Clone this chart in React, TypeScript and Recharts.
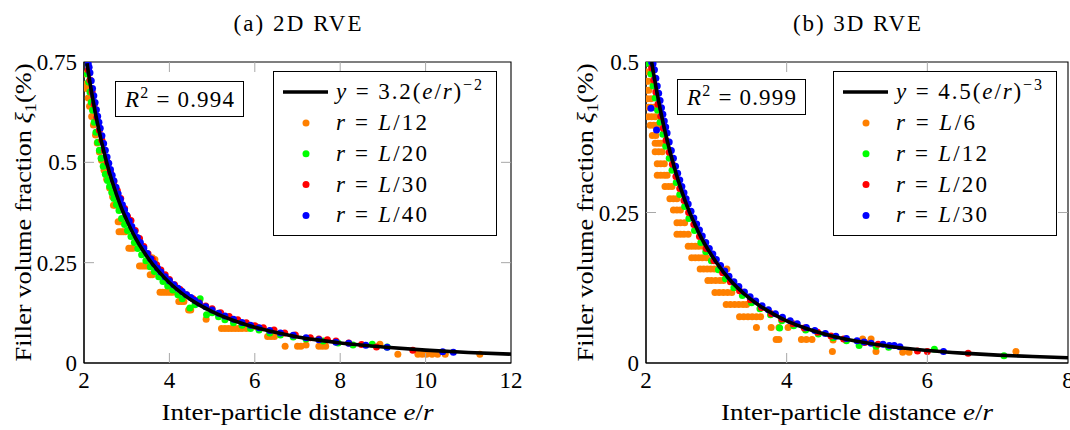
import React from "react";
import { ComposedChart, Scatter, XAxis, YAxis, ReferenceArea, Legend } from "recharts";

type Pt = [number, number];

// (a) 2D RVE
const fit2D: Pt[] = [
  [2.07, 0.747], [2.1, 0.726], [2.15, 0.692], [2.2, 0.661], [2.25, 0.632], [2.3, 0.605], [2.4, 0.556],
  [2.5, 0.512], [2.6, 0.473], [2.7, 0.439], [2.8, 0.408], [2.9, 0.38], [3.0, 0.356], [3.2, 0.3125],
  [3.4, 0.277], [3.6, 0.247], [3.8, 0.222], [4.0, 0.2], [4.3, 0.173], [4.6, 0.151], [5.0, 0.128],
  [5.5, 0.106], [6.0, 0.089], [6.5, 0.076], [7.0, 0.065], [7.5, 0.057], [8.0, 0.05], [9.0, 0.04],
  [10.0, 0.032], [11.0, 0.026], [12.0, 0.022],
];
const orange2D: Pt[] = [
  [2.01, 0.72], [2.05, 0.695], [2.06, 0.684], [2.1, 0.66], [2.13, 0.64], [2.18, 0.614], [2.22, 0.593],
  [2.27, 0.568], [2.31, 0.548], [2.36, 0.526], [2.41, 0.505], [2.45, 0.505], [2.47, 0.48], [2.53, 0.458],
  [2.6, 0.436], [2.67, 0.414], [2.69, 0.393], [2.73, 0.393],
  [2.8, 0.352], [2.84, 0.352], [2.88, 0.352],
  [2.82, 0.327], [2.87, 0.327], [2.92, 0.327], [2.97, 0.327],
  [3.05, 0.286], [3.1, 0.286], [3.15, 0.286],
  [3.3, 0.242], [3.35, 0.242], [3.4, 0.242], [3.45, 0.242], [3.5, 0.242],
  [3.55, 0.22], [3.6, 0.22], [3.6, 0.262], [3.66, 0.258],
  [3.78, 0.176], [3.84, 0.176], [3.9, 0.176], [3.96, 0.176], [4.02, 0.176], [4.08, 0.176],
  [4.22, 0.153], [4.28, 0.153], [4.34, 0.153], [4.45, 0.132], [4.5, 0.132], [4.86, 0.109],
  [5.22, 0.086], [5.3, 0.086], [5.38, 0.086], [5.46, 0.086], [5.54, 0.086], [5.62, 0.086], [5.7, 0.086], [5.8, 0.086],
  [5.9, 0.092], [6.05, 0.09],
  [6.3, 0.066], [6.38, 0.066], [6.46, 0.066],
  [6.71, 0.042], [7.0, 0.042], [7.08, 0.042], [7.2, 0.045], [7.5, 0.042], [7.58, 0.042], [7.66, 0.042],
  [8.93, 0.047],
  [9.35, 0.022], [9.82, 0.022], [9.92, 0.022], [10.02, 0.022], [10.15, 0.022], [10.28, 0.022], [10.46, 0.022], [11.27, 0.022],
];
const green2D: Pt[] = [
  [2.08, 0.72], [2.11, 0.7], [2.14, 0.675], [2.17, 0.65], [2.2, 0.63], [2.24, 0.6], [2.28, 0.575], [2.32, 0.55],
  [2.36, 0.53], [2.4, 0.51], [2.45, 0.49], [2.5, 0.47], [2.55, 0.455], [2.6, 0.44], [2.65, 0.425], [2.7, 0.41],
  [2.76, 0.395], [2.82, 0.38], [2.88, 0.36], [2.95, 0.345], [3.02, 0.33], [3.1, 0.315], [3.18, 0.3], [3.26, 0.285],
  [3.35, 0.27], [3.45, 0.255], [3.55, 0.24], [3.65, 0.228], [3.75, 0.215], [3.85, 0.203], [3.96, 0.192],
  [4.08, 0.182], [4.2, 0.17], [4.3, 0.16], [4.48, 0.137], [4.6, 0.145], [4.72, 0.16], [4.87, 0.12], [5.0, 0.125],
  [5.15, 0.115], [5.3, 0.108], [5.5, 0.1], [5.7, 0.094], [5.9, 0.086], [6.1, 0.082], [6.35, 0.075], [6.6, 0.07],
  [6.9, 0.065], [7.2, 0.06], [7.6, 0.055], [7.95, 0.05], [8.3, 0.045], [8.75, 0.047], [9.1, 0.04],
];
const red2D: Pt[] = [
  [2.1, 0.73], [2.14, 0.705], [2.19, 0.675], [2.24, 0.645], [2.3, 0.612], [2.36, 0.58], [2.42, 0.555], [2.48, 0.53],
  [2.55, 0.5], [2.62, 0.475], [2.7, 0.452], [2.78, 0.43], [2.86, 0.41], [2.95, 0.385], [3.02, 0.365], [3.1, 0.355],
  [3.2, 0.33], [3.3, 0.31], [3.4, 0.29], [3.5, 0.272], [3.6, 0.258], [3.7, 0.245], [3.8, 0.232], [3.9, 0.22],
  [4.0, 0.208], [4.12, 0.195], [4.25, 0.183], [4.4, 0.17], [4.55, 0.16], [4.7, 0.15], [4.85, 0.142], [5.0, 0.135],
  [5.2, 0.125], [5.4, 0.116], [5.6, 0.108], [5.8, 0.1], [6.0, 0.093], [6.2, 0.088], [6.45, 0.082], [6.7, 0.075],
  [6.95, 0.07], [7.3, 0.063], [7.5, 0.06], [7.7, 0.058], [7.9, 0.055], [8.2, 0.05], [8.5, 0.046], [8.85, 0.04], [9.7, 0.032],
];
const blue2D: Pt[] = [
  [2.1, 0.745], [2.12, 0.737], [2.14, 0.723], [2.17, 0.703], [2.2, 0.684], [2.23, 0.666], [2.26, 0.649], [2.29, 0.631],
  [2.32, 0.615], [2.35, 0.6], [2.38, 0.585], [2.42, 0.566], [2.46, 0.547], [2.5, 0.53], [2.54, 0.513], [2.58, 0.498],
  [2.62, 0.482], [2.66, 0.468], [2.7, 0.454], [2.75, 0.438], [2.8, 0.422], [2.85, 0.408], [2.9, 0.394], [2.95, 0.381],
  [3.0, 0.368], [3.06, 0.354], [3.12, 0.34], [3.18, 0.327], [3.25, 0.313], [3.32, 0.3], [3.4, 0.286], [3.48, 0.273],
  [3.56, 0.26], [3.64, 0.248], [3.72, 0.237], [3.8, 0.227], [3.9, 0.215], [4.0, 0.205], [4.1, 0.195], [4.2, 0.186],
  [4.3, 0.178], [4.4, 0.17], [4.5, 0.163], [4.6, 0.156], [4.7, 0.149], [4.85, 0.14], [5.0, 0.132], [5.15, 0.124],
  [5.3, 0.117], [5.5, 0.109], [5.7, 0.101], [5.9, 0.094], [6.1, 0.088], [6.35, 0.081], [6.6, 0.075], [6.9, 0.069],
  [7.2, 0.063], [7.5, 0.058], [7.9, 0.052], [8.2, 0.049], [8.6, 0.044], [9.1, 0.039], [10.4, 0.028], [10.65, 0.027],
];

// (b) 3D RVE
const fit3D: Pt[] = [
  [2.08, 0.5], [2.1, 0.486], [2.15, 0.453], [2.2, 0.423], [2.25, 0.395], [2.3, 0.37], [2.4, 0.326], [2.5, 0.288],
  [2.6, 0.256], [2.7, 0.229], [2.8, 0.205], [2.9, 0.185], [3.0, 0.167], [3.2, 0.137], [3.4, 0.1145], [3.6, 0.0965],
  [3.8, 0.082], [4.0, 0.07], [4.3, 0.0566], [4.6, 0.0462], [5.0, 0.036], [5.5, 0.027], [6.0, 0.0208], [6.5, 0.0164],
  [7.0, 0.0131], [7.5, 0.0107], [8.0, 0.0088],
];
const orange3D: Pt[] = [
  [2.0, 0.484], [2.0, 0.468], [2.03, 0.468], [2.0, 0.453], [2.04, 0.453], [2.02, 0.439], [2.07, 0.439],
  [2.03, 0.425], [2.07, 0.425], [2.11, 0.425], [2.03, 0.409], [2.08, 0.409], [2.13, 0.409], [2.06, 0.395],
  [2.11, 0.395], [2.16, 0.395], [2.09, 0.378], [2.14, 0.378], [2.13, 0.365], [2.17, 0.365], [2.21, 0.365],
  [2.13, 0.351], [2.18, 0.351], [2.23, 0.351], [2.16, 0.331], [2.21, 0.331], [2.26, 0.331], [2.16, 0.312],
  [2.21, 0.312], [2.26, 0.312], [2.3, 0.312], [2.27, 0.293], [2.32, 0.293], [2.37, 0.293], [2.34, 0.273],
  [2.39, 0.273], [2.44, 0.273], [2.39, 0.254], [2.44, 0.254], [2.49, 0.254],
  [2.44, 0.233], [2.49, 0.233], [2.55, 0.233],
  [2.44, 0.214], [2.49, 0.214], [2.54, 0.214], [2.6, 0.214],
  [2.6, 0.194], [2.65, 0.194], [2.7, 0.194], [2.75, 0.194], [2.81, 0.194],
  [2.65, 0.175], [2.7, 0.175], [2.75, 0.175], [2.8, 0.175], [2.86, 0.175],
  [2.77, 0.156], [2.82, 0.156], [2.87, 0.156], [2.92, 0.156], [2.97, 0.156], [3.03, 0.156], [3.15, 0.156],
  [2.88, 0.137], [2.93, 0.137], [2.99, 0.137], [3.05, 0.137], [3.1, 0.137],
  [2.98, 0.117], [3.04, 0.117], [3.1, 0.117], [3.16, 0.117], [3.22, 0.117],
  [3.14, 0.097], [3.2, 0.097], [3.26, 0.097], [3.32, 0.097], [3.38, 0.097], [3.43, 0.097],
  [3.33, 0.077], [3.39, 0.077], [3.45, 0.077], [3.51, 0.077], [3.57, 0.077], [3.63, 0.077],
  [3.57, 0.059], [3.78, 0.059], [3.89, 0.059], [4.02, 0.059],
  [3.85, 0.039], [3.89, 0.039], [4.21, 0.039], [4.28, 0.039], [4.36, 0.039],
  [4.66, 0.038], [4.65, 0.019], [5.08, 0.04], [5.2, 0.04], [5.27, 0.019], [5.65, 0.018], [5.74, 0.018], [7.26, 0.019],
];
const green3D: Pt[] = [
  [2.04, 0.497], [2.07, 0.48], [2.1, 0.46], [2.13, 0.44], [2.165, 0.42], [2.2, 0.4], [2.24, 0.38], [2.28, 0.36],
  [2.33, 0.34], [2.37, 0.32], [2.43, 0.3], [2.48, 0.28], [2.55, 0.26], [2.61, 0.24], [2.69, 0.22], [2.78, 0.2],
  [2.85, 0.185], [2.93, 0.17], [3.03, 0.155], [3.13, 0.14], [3.25, 0.125], [3.37, 0.112], [3.5, 0.1], [3.62, 0.09],
  [3.77, 0.08], [3.93, 0.07], [3.9, 0.058], [4.1, 0.062], [4.27, 0.055], [4.45, 0.048], [4.66, 0.042], [4.85, 0.037],
  [5.03, 0.029], [5.27, 0.028], [5.45, 0.026], [6.1, 0.023], [7.09, 0.012],
];
const red3D: Pt[] = [
  [2.08, 0.49], [2.11, 0.47], [2.14, 0.45], [2.17, 0.43], [2.21, 0.41], [2.245, 0.39], [2.285, 0.37], [2.33, 0.35],
  [2.375, 0.33], [2.425, 0.31], [2.48, 0.29], [2.54, 0.27], [2.606, 0.25], [2.68, 0.23], [2.76, 0.21], [2.855, 0.19],
  [2.965, 0.17], [3.09, 0.15], [3.2, 0.135], [3.33, 0.12], [3.485, 0.105], [3.64, 0.092], [3.78, 0.082], [3.93, 0.073],
  [4.09, 0.065], [4.25, 0.058], [4.44, 0.051], [4.63, 0.045], [4.81, 0.04], [5.11, 0.034], [5.3, 0.031],
  [5.86, 0.02], [6.0, 0.019], [6.58, 0.016],
];
const blue3D: Pt[] = [
  [2.08, 0.5], [2.1, 0.497], [2.12, 0.487], [2.14, 0.473], [2.16, 0.46], [2.18, 0.448], [2.2, 0.436], [2.22, 0.424],
  [2.24, 0.413], [2.26, 0.402], [2.28, 0.392], [2.3, 0.382], [2.33, 0.367], [2.36, 0.353], [2.39, 0.34], [2.42, 0.327],
  [2.45, 0.315], [2.48, 0.304], [2.51, 0.293], [2.54, 0.283], [2.57, 0.273], [2.6, 0.264], [2.64, 0.252], [2.68, 0.241],
  [2.72, 0.231], [2.76, 0.221], [2.8, 0.211], [2.85, 0.2], [2.9, 0.19], [2.95, 0.181], [3.0, 0.172], [3.06, 0.162],
  [3.12, 0.153], [3.18, 0.144], [3.25, 0.135], [3.32, 0.127], [3.4, 0.118], [3.48, 0.11], [3.56, 0.103], [3.65, 0.095],
  [3.74, 0.0885], [3.84, 0.082], [3.94, 0.076], [4.05, 0.07], [4.15, 0.065], [4.28, 0.059], [4.4, 0.054], [4.55, 0.049],
  [4.7, 0.0445], [4.85, 0.0405], [5.0, 0.037], [5.1, 0.035], [5.2, 0.033], [5.37, 0.031], [5.46, 0.029], [5.53, 0.029],
  [5.61, 0.027], [6.23, 0.019], [2.07, 0.423], [2.15, 0.387],
];

const xTicks2D = [2, 4, 6, 8, 10, 12];
const yTicks2D = [0, 0.25, 0.5, 0.75];
const xTicks3D = [2, 4, 6, 8];
const yTicks3D = [0, 0.25, 0.5];
const dens2D = [12, 20, 30, 40];
const dens3D = [6, 12, 20, 30];
const seriesColors = ["#ff8000", "#00ff00", "#ff0000", "#0000ff"];

const FONT = '"Liberation Serif", "Times New Roman", serif';
const FS = 23;
const TICK = "#a8a8a8";

const toXY = (pts: Pt[]) => pts.map(([x, y]) => ({ x, y }));

function XTick(props: any) {
  const { x, y, payload, plotH, first, last } = props;
  const edge = payload.value === first || payload.value === last;
  return (
    <g>
      {!edge && <line x1={x} y1={y} x2={x} y2={y - 10} stroke={TICK} />}
      {!edge && <line x1={x} y1={y - plotH} x2={x} y2={y - plotH + 10} stroke={TICK} />}
      <text x={x} y={y + 25} textAnchor="middle" fontFamily={FONT} fontSize={FS} fill="#000">
        {payload.value}
      </text>
    </g>
  );
}

function YTick(props: any) {
  const { x, y, payload, plotW, first, last } = props;
  const edge = payload.value === first || payload.value === last;
  return (
    <g>
      {!edge && <line x1={x} y1={y} x2={x + 10} y2={y} stroke={TICK} />}
      {!edge && <line x1={x + plotW} y1={y} x2={x + plotW - 10} y2={y} stroke={TICK} />}
      <text x={x - 7} y={y} dy="0.35em" textAnchor="end" fontFamily={FONT} fontSize={FS} fill="#000">
        {payload.value}
      </text>
    </g>
  );
}

function XTitle(props: any) {
  const { viewBox } = props;
  const cx = viewBox.x + viewBox.width / 2;
  return (
    <text x={cx} y={viewBox.y + 57} textAnchor="middle" fontFamily={FONT} fontSize={FS} fill="#000"
      textLength={272} lengthAdjust="spacingAndGlyphs">
      Inter-particle distance <tspan fontStyle="italic">e</tspan>/<tspan fontStyle="italic">r</tspan>
    </text>
  );
}

function YTitle(props: any) {
  const { viewBox } = props;
  const bx = viewBox.x + viewBox.width - 53.5;
  const cy = viewBox.y + viewBox.height / 2;
  return (
    <text x={bx} y={cy} transform={`rotate(-90 ${bx} ${cy})`} textAnchor="middle" fontFamily={FONT}
      fontSize={FS} fill="#000" textLength={298} lengthAdjust="spacingAndGlyphs">
      Filler volume fraction <tspan fontStyle="italic">ξ</tspan>
      <tspan fontSize={16} dy={5}>1</tspan>
      <tspan dy={-5}>(%)</tspan>
    </text>
  );
}

function makeLegend(dens: number[], coef: string, exp: string) {
  return () => (
    <svg width={224} height={165} style={{ display: "block" }}>
      <rect x={0.5} y={0.5} width={223} height={164} fill="#fff" stroke="#000" />
      <line x1={10} y1={21} x2={55} y2={21} stroke="#000" strokeWidth={3.6} />
      <text x={63} y={28} fontFamily={FONT} fontSize={FS} fill="#000" textLength={146} lengthAdjust="spacing">
        <tspan fontStyle="italic">y</tspan> = {coef}(<tspan fontStyle="italic">e</tspan>/
        <tspan fontStyle="italic">r</tspan>)<tspan fontSize={16} dy={-9}>−{exp}</tspan>
      </text>
      {dens.map((d, i) => (
        <g key={d}>
          <circle cx={33} cy={52 + i * 30.8} r={3.5} fill={seriesColors[i]} />
          <text x={63} y={59 + i * 30.8} fontFamily={FONT} fontSize={FS} fill="#000"
            textLength={d < 10 ? 79 : 91} lengthAdjust="spacing">
            <tspan fontStyle="italic">r</tspan> = <tspan fontStyle="italic">L</tspan>/{d}
          </text>
        </g>
      ))}
    </svg>
  );
}

const noDot = () => <g />;

interface PanelProps {
  left: number;
  width: number;
  yAxisW: number;
  right: number;
  title: string;
  series: Pt[][];
  dens: number[];
  fit: Pt[];
  coef: string;
  exp: string;
  r2: string;
  xTicks: number[];
  yTicks: number[];
  legendLeft: number;
  boxLeft: number;
  boxTop: number;
}

function Panel(p: PanelProps) {
  const top = 62;
  const xAxisH = 67;
  const plotW = p.width - p.yAxisW - p.right;
  const plotH = 430 - top - xAxisH;
  const x0 = p.xTicks[0];
  const x1 = p.xTicks[p.xTicks.length - 1];
  const y0 = p.yTicks[0];
  const y1 = p.yTicks[p.yTicks.length - 1];
  return (
    <div style={{ position: "absolute", left: p.left, top: 0, width: p.width, height: 430 }}>
      <ComposedChart width={p.width} height={430} margin={{ top, right: p.right, bottom: 0, left: 0 }}>
        <XAxis type="number" dataKey="x" domain={[x0, x1]} ticks={p.xTicks} allowDataOverflow height={xAxisH}
          tickSize={0} tickMargin={0} tickLine={false} interval={0}
          axisLine={{ stroke: "#000", strokeWidth: 1.1 }}
          tick={<XTick plotH={plotH} first={x0} last={x1} />} label={<XTitle />} />
        <YAxis type="number" dataKey="y" domain={[y0, y1]} ticks={p.yTicks} allowDataOverflow width={p.yAxisW}
          tickSize={0} tickMargin={0} tickLine={false} interval={0}
          axisLine={{ stroke: "#000", strokeWidth: 1.1 }}
          tick={<YTick plotW={plotW} first={y0} last={y1} />} label={<YTitle />} />
        <ReferenceArea x1={x0} x2={x1} y1={y0} y2={y1} fill="none" stroke="#000" strokeWidth={1.1} />
        {p.series.map((pts, i) => (
          <Scatter key={i} name={`r = L/${p.dens[i]}`} data={toXY(pts)} fill={seriesColors[i]}
            isAnimationActive={false}
            shape={(s: any) => <circle cx={s.cx} cy={s.cy} r={3.5} fill={seriesColors[i]} />} />
        ))}
        <Scatter name="fit" data={toXY(p.fit)} fill="#000" isAnimationActive={false} shape={noDot}
          line={{ stroke: "#000", strokeWidth: 3.6, fill: "none" }} lineJointType="monotoneX" />
        <Legend layout="vertical" align="center" verticalAlign="middle"
          wrapperStyle={{ left: p.legendLeft, top: 71, width: 224, height: 165, margin: 0, padding: 0 }}
          content={makeLegend(p.dens, p.coef, p.exp)} />
      </ComposedChart>
      <svg style={{ position: "absolute", left: 0, top: 0 }} width={p.width} height={42}>
        <text x={p.yAxisW + plotW / 2} y={30.5} textAnchor="middle" fontFamily={FONT} fontSize={FS}
          fill="#000" textLength={128} lengthAdjust="spacing">
          {p.title}
        </text>
      </svg>
      <svg style={{ position: "absolute", left: p.boxLeft, top: p.boxTop }} width={129} height={36}>
        <rect x={0.5} y={0.5} width={128} height={35} fill="#fff" stroke="#000" />
        <text x={64.5} y={26} textAnchor="middle" fontFamily={FONT} fontSize={FS} fill="#000"
          textLength={109} lengthAdjust="spacing">
          <tspan fontStyle="italic">R</tspan>
          <tspan fontSize={16} dy={-9}>2</tspan>
          <tspan dy={9}> = {p.r2}</tspan>
        </text>
      </svg>
    </div>
  );
}

export default function App() {
  return (
    <div style={{ position: "absolute", left: 0, top: 0, width: 1070, height: 430, background: "#fff", overflow: "hidden" }}>
      <Panel left={0} width={540} yAxisW={84} right={29} title="(a) 2D RVE"
        series={[orange2D, green2D, red2D, blue2D]} dens={dens2D} fit={fit2D} coef="3.2" exp="2" r2="0.994"
        xTicks={xTicks2D} yTicks={yTicks2D} legendLeft={273} boxLeft={115} boxTop={81} />
      <Panel left={540} width={530} yAxisW={106} right={2} title="(b) 3D RVE"
        series={[orange3D, green3D, red3D, blue3D]} dens={dens3D} fit={fit3D} coef="4.5" exp="3" r2="0.999"
        xTicks={xTicks3D} yTicks={yTicks3D} legendLeft={293} boxLeft={137} boxTop={79} />
    </div>
  );
}
